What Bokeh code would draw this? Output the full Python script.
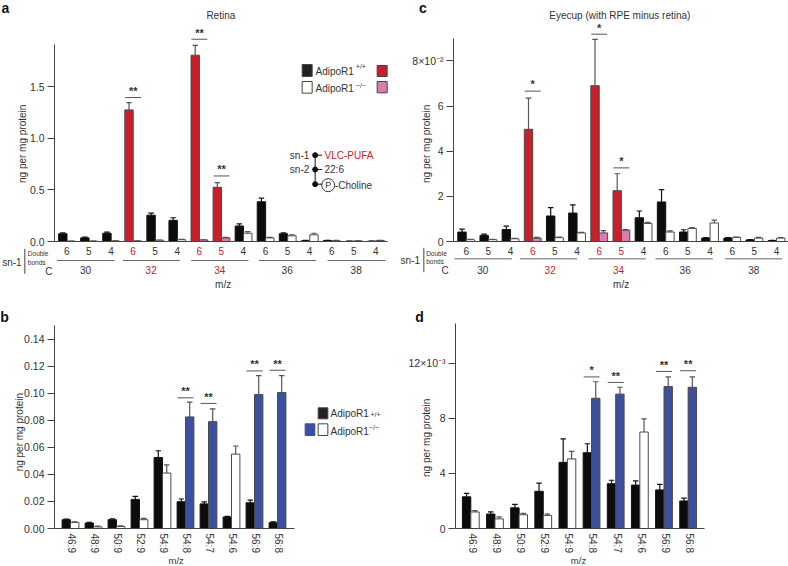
from bokeh.plotting import figure
from bokeh.layouts import column, row
from bokeh.models import Range1d, Label, Arrow, BoxAnnotation, FixedTicker, LinearAxis
from bokeh.embed import file_html
from bokeh.resources import INLINE

FONT = "Liberation Sans"
INK = "#333333"
RED = "#C8202B"
PINK = "#DC7CA8"
BLUE = "#3D4F9F"
BLACK = "#0c0c0c"

# ---- data -----------------------------------------------------------------
bonds = ["6", "5", "4"] * 5
carbons = ["30", "32", "34", "36", "38"]
mz = ["46:9", "48:9", "50:9", "52:9", "54:9", "54:8", "54:7", "54:6", "56:9", "56:8"]

a_wt = [.075, .035, .08, 1.275, .255, .205, 1.805, .525, .15, .385, .075, .008, .01, .003, .003]
a_wt_err = [.085, .042, .09, 1.345, .275, .23, 1.90, .57, .17, .42, .085, .01, .012, .004, .004]
a_ko = [.003, .004, .005, .005, .012, .017, .015, .035, .08, .035, .055, .065, .008, .006, .01]
a_ko_err = [.004, .005, .006, .006, .014, .02, .017, .04, .095, .04, .065, .08, .01, .007, .012]
a_sig = [(3, 1.395, "**"), (6, 1.96, "**"), (7, .635, "**")]

c_wt = [.42, .27, .53, 4.97, 1.13, 1.26, 6.9, 2.25, 1.05, 1.75, .42, .15, .15, .07, .04]
c_wt_err = [.55, .33, .68, 6.35, 1.5, 1.62, 8.95, 3.0, 1.35, 2.3, .52, .17, .17, .08, .05]
c_ko = [.08, .08, .12, .15, .17, .38, .38, .5, .8, .42, .58, .82, .18, .15, .15]
c_ko_err = [.1, .1, .14, .18, .2, .4, .48, .53, .85, .47, .62, .95, .2, .18, .17]
c_sig = [(3, 6.66, "*"), (6, 9.18, "*"), (7, 3.26, "*")]

b_wt = [.0065, .004, .0065, .0215, .0525, .0198, .0182, .0085, .019, .0043]
b_wt_err = [.007, .0045, .0072, .0237, .0575, .0218, .0197, .009, .021, .005]
b_ko = [.0045, .0012, .0015, .0065, .041, .0825, .079, .055, .099, .1005]
b_ko_err = [.005, .0018, .002, .0075, .047, .0935, .0885, .061, .113, .113]
b_sig = [(5, .0966, "**"), (6, .0925, "**"), (8, .1165, "**"), (9, .117, "**")]

d_wt = [2.3, 1.05, 1.5, 2.7, 4.8, 5.5, 3.25, 3.15, 2.8, 2.0]
d_wt_err = [2.55, 1.2, 1.75, 3.3, 6.5, 6.15, 3.5, 3.45, 3.2, 2.2]
d_ko = [1.2, .7, 1.0, .95, 5.05, 9.45, 9.75, 7.0, 10.3, 10.25]
d_ko_err = [1.3, .85, 1.1, 1.05, 5.6, 10.65, 10.25, 7.95, 11.0, 11.0]
d_sig = [(5, 11.0, "*"), (6, 10.6, "**"), (8, 11.4, "**"), (9, 11.45, "**")]

red_groups = [3, 6, 7]
pink_groups = [3, 6, 7]
blue_groups = [5, 6, 8, 9]


class Panel:
    """The frame fills the figure; axes are pinned inside it; z() converts 3x-crop coordinates to data."""

    def __init__(self, w, h, left, right, top, bottom, x0, pitch, unit_px, ticks, overrides=None,
                 x_ticks=None, x_labels=None):
        self.x0, self.pitch, self.unit_px, self.bottom = x0, pitch, unit_px, bottom
        x_left = (left - x0) / pitch
        x_right = (right - x0) / pitch
        y_top = (bottom - top) / unit_px
        p = figure(width=w, height=h, output_backend="svg", toolbar_location=None,
                   x_range=Range1d((0 - x0) / pitch, (w - x0) / pitch),
                   y_range=Range1d((bottom - h) / unit_px, bottom / unit_px),
                   x_axis_type=None, y_axis_type=None,
                   min_border_left=0, min_border_right=0, min_border_top=0, min_border_bottom=0,
                   tools="", outline_line_color=None, background_fill_color="white",
                   border_fill_color="white")
        p.grid.visible = False
        ax = LinearAxis(fixed_location=x_left, bounds=(0, y_top), ticker=FixedTicker(ticks=ticks))
        if overrides:
            ax.major_label_overrides = overrides
        ax.minor_tick_line_color = None
        ax.major_tick_out = 7
        ax.major_tick_in = 0
        ax.major_label_standoff = 3
        ax.axis_line_color = "#444444"
        ax.major_tick_line_color = "#444444"
        ax.major_label_text_font = FONT
        ax.major_label_text_font_size = "10.5px"
        ax.major_label_text_color = INK
        p.add_layout(ax, "left")
        shifted = [t + 0.06 for t in (x_ticks or [])]
        bx = LinearAxis(fixed_location=0, bounds=(x_left, x_right), ticker=FixedTicker(ticks=shifted))
        bx.axis_line_color = "#444444"
        bx.major_tick_line_color = None
        bx.minor_tick_line_color = None
        bx.major_tick_out = 0
        bx.major_tick_in = 0
        bx.major_label_text_font = FONT
        bx.major_label_text_font_size = "10px"
        bx.major_label_text_color = INK
        if x_labels:
            bx.major_label_overrides = dict(zip(shifted, x_labels))
            bx.major_label_orientation = "vertical"
            bx.major_label_standoff = 5
        p.add_layout(bx, "below")
        self.p = p

    def z(self, zx, zy):
        return (zx / 3 - self.x0) / self.pitch, (self.bottom - zy / 3) / self.unit_px

    def text(self, zx, zy, s, size=10, color=INK, align="left", angle=0, bold=False):
        x, y = self.z(zx, zy)
        self.p.add_layout(Label(x=x, y=y, text=s, text_font=FONT, text_font_size=f"{size}px",
                                text_color=color, text_align=align, text_baseline="middle",
                                angle=angle, angle_units="deg",
                                text_font_style="bold" if bold else "normal"))

    def hline(self, zx0, zx1, zy, color="#555555", width=1):
        x0, y0 = self.z(zx0, zy)
        x1, y1 = self.z(zx1, zy)
        self.p.add_layout(Arrow(start=None, end=None, x_start=x0, y_start=y0, x_end=x1, y_end=y1,
                                line_color=color, line_width=width))

    def vline(self, zx, zy0, zy1, color="#444444", width=1):
        x0, y0 = self.z(zx, zy0)
        x1, y1 = self.z(zx, zy1)
        self.p.add_layout(Arrow(start=None, end=None, x_start=x0, y_start=y0, x_end=x1, y_end=y1,
                                line_color=color, line_width=width))

    def box(self, zx0, zy0, zx1, zy1, fill, line="#444444"):
        x0, y0 = self.z(zx0, zy0)
        x1, y1 = self.z(zx1, zy1)
        self.p.add_layout(BoxAnnotation(left=x0, right=x1, bottom=y1, top=y0, fill_color=fill,
                                        fill_alpha=1, line_color=line, line_alpha=1, line_width=1))

    def bars(self, wt, wt_err, ko, ko_err, wt_colors, ko_colors, bar_px=8.4, cap_px=5.5):
        n = len(wt)
        w = bar_px / self.pitch
        cap = cap_px / self.pitch / 2
        xs_w = [i - w / 2 for i in range(n)]
        xs_k = [i + w / 2 for i in range(n)]
        for xs, tops, errs, cols in ((xs_w, wt, wt_err, wt_colors), (xs_k, ko, ko_err, ko_colors)):
            err_cols = ["#111111" if c == BLACK else "#555555" for c in cols]
            self.p.segment(xs, tops, xs, errs, line_color=err_cols, line_width=1.2)
            self.p.segment([x - cap for x in xs], errs, [x + cap for x in xs], errs,
                           line_color=err_cols, line_width=1.2)
            self.p.vbar(x=xs, top=tops, bottom=0, width=w, fill_color=cols,
                        line_color=["#111111" if c == BLACK else "#4a4a4a" for c in cols], line_width=1)

    def sig(self, sig, half_zoom=24, star_zoom=23):
        for g, lvl, stars in sig:
            zc = (self.x0 + g * self.pitch) * 3
            zy = (self.bottom - lvl * self.unit_px) * 3
            self.hline(zc - half_zoom, zc + half_zoom, zy)
            self.text(zc, zy - star_zoom + 3, stars, size=11, align="center", bold=True)


def carbon_axis(P, digit_x0, line_spans, group_x, line_y, digit_y, group_y):
    for i, b in enumerate(bonds):
        zx = digit_x0 + i * P.pitch * 3
        P.text(zx, digit_y, b, size=10, color=RED if i in red_groups else INK, align="center")
    for i, (x0, x1) in enumerate(line_spans):
        P.hline(x0, x1, line_y, color="#666666")
    for i, c in enumerate(carbons):
        P.text(group_x[i], group_y, c, size=10, color=RED if c in ("32", "34") else INK, align="center")


# ---- panel a ---------------------------------------------------------------
A = Panel(394, 300, 54, 387, 44, 241, 66.5, 22.07, 103.2, [0, .5, 1, 1.5],
          {0: "0.0", 0.5: "0.5", 1: "1.0", 1.5: "1.5"})
A.bars(a_wt, a_wt_err, a_ko, a_ko_err,
       [RED if i in red_groups else BLACK for i in range(15)],
       [PINK if i in (6, 7) else "white" for i in range(15)])
A.sig(a_sig)
carbon_axis(A, 199, [(170, 342), (367, 538), (572, 744), (775, 947), (981, 1155)],
            [255, 452, 658, 860, 1067], 780, 750, 808)
A.text(15, 22, "a", size=14, color="#111111", align="center", bold=True)
A.text(661, 45, "Retina", align="center")
A.text(67, 430, "ng per mg protein", align="center", angle=90)
A.text(668, 852, "m/z", align="center")
A.text(5, 785, "sn-1")
A.vline(73, 745, 820)
A.text(82, 760, "Double", size=6.5)
A.text(82, 785, "bonds", size=6.5)
A.text(145, 813, "C", align="center")
A.box(905, 192, 935, 228, "#222222")
A.box(1130, 195, 1160, 228, RED)
A.box(905, 243, 935, 278, "white")
A.box(1130, 243, 1160, 277, PINK)
A.text(945, 212, "AdipoR1", size=10)
A.text(945, 264, "AdipoR1", size=10)
A.text(1066, 198, "+/+", size=7)
A.text(1066, 254, "−/−", size=7)
A.vline(944, 464, 551, color="#111111")
for zy, zx1 in ((464, 965), (507, 965), (551, 965)):
    A.hline(944, zx1, zy, color="#111111")
    x, y = A.z(944, zy)
    A.p.scatter([x], [y], size=5, color="#111111")
A.text(868, 464, "sn-1")
A.text(868, 508, "sn-2")
A.text(972, 464, "VLC-PUFA", color=RED)
A.text(972, 507, "22:6")
cx, cy = A.z(983, 554)
A.p.scatter([cx], [cy], size=13, fill_color="white", line_color="#333333")
A.text(983, 554, "P", size=9, align="center")
A.text(1003, 554, "-Choline")

# ---- panel c ---------------------------------------------------------------
C = Panel(394, 300, 59, 394, 38, 241, 71.7, 22.17, 22.58, [0, 2, 4, 6, 8], {8: "8×10⁻²"})
C.bars(c_wt, c_wt_err, c_ko, c_ko_err,
       [RED if i in red_groups else BLACK for i in range(15)],
       [PINK if i in pink_groups else "white" for i in range(15)])
C.sig(c_sig)
carbon_axis(C, 215, [(180, 352), (376, 548), (582, 754), (783, 955), (992, 1163)],
            [265, 467, 672, 872, 1078], 775, 750, 808)
C.text(85, 22, "c", size=14, color="#111111", align="center", bold=True)
C.text(676, 45, "Eyecup (with RPE minus retina)", align="center")
C.text(95, 430, "ng per mg protein", align="center", angle=90)
C.text(680, 852, "m/z", align="center")
C.text(18, 780, "sn-1")
C.vline(88, 742, 815)
C.text(95, 758, "Double", size=6.5)
C.text(95, 783, "bonds", size=6.5)
C.text(152, 810, "C", align="center")

# ---- panel b ---------------------------------------------------------------
B = Panel(394, 266, 54, 294, 25, 228, 70, 23, 1352.5, [0, .02, .04, .06, .08, .10, .12, .14],
          {0: "0.00", .02: "0.02", .04: "0.04", .06: "0.06", .08: "0.08", .10: "0.10", .12: "0.12", .14: "0.14"},
          x_ticks=list(range(10)), x_labels=mz)
B.bars(b_wt, b_wt_err, b_ko, b_ko_err, [BLACK] * 10,
       [BLUE if i in blue_groups else "white" for i in range(10)])
B.sig(b_sig)
B.text(12, 50, "b", size=14, color="#111111", align="center", bold=True)
B.text(58, 395, "ng per mg protein", align="center", angle=90)
B.text(527, 780, "m/z", size=9.5, align="center")
B.box(953, 322, 982, 355, "#222222")
B.box(914, 370, 943, 405, BLUE, line=BLUE)
B.box(953, 370, 982, 405, "white")
B.text(990, 340, "AdipoR1")
B.text(990, 392, "AdipoR1")
B.text(1110, 342, "+/+", size=7)
B.text(1105, 382, "−/−", size=7)

# ---- panel d ---------------------------------------------------------------
D = Panel(394, 266, 61, 310, 23, 228, 76.3, 24.15, 13.78, [0, 4, 8, 12], {12: "12×10⁻³"},
          x_ticks=list(range(10)), x_labels=mz)
D.bars(d_wt, d_wt_err, d_ko, d_ko_err, [BLACK] * 10,
       [BLUE if i in blue_groups else "white" for i in range(10)])
D.sig(d_sig)
D.text(75, 48, "d", size=14, color="#111111", align="center", bold=True)
D.text(95, 412, "ng per mg protein", align="center", angle=90)
D.text(552, 780, "m/z", size=9.5, align="center")

layout = column(row(A.p, C.p, spacing=0), row(B.p, D.p, spacing=0), spacing=0)
open("out.html", "w").write(file_html(layout, INLINE))
